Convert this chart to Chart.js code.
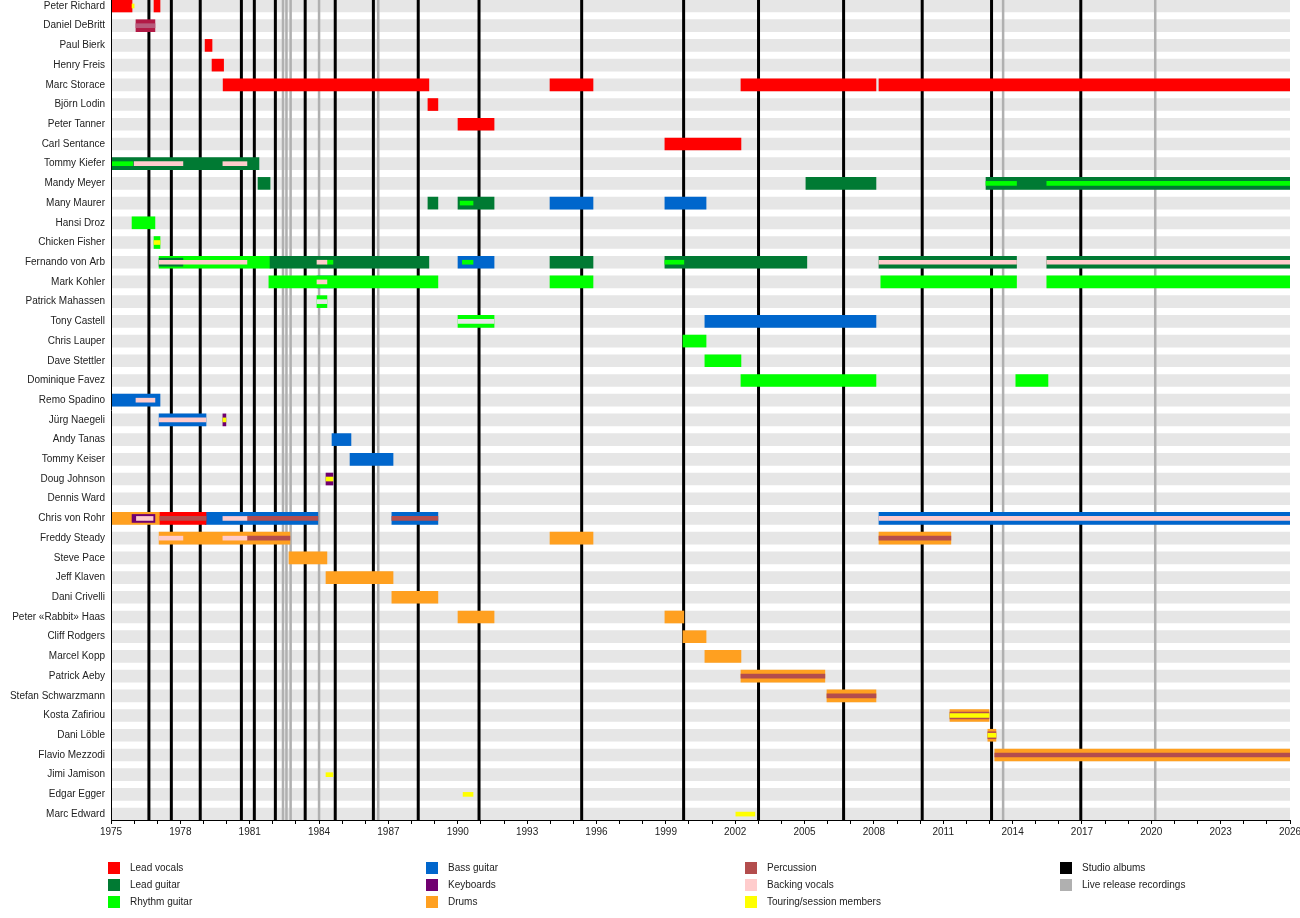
<!DOCTYPE html>
<html>
<head>
<meta charset="utf-8">
<script src="https://cdn.jsdelivr.net/npm/chart.js@4.4.1/dist/chart.umd.min.js"></script>
<style>
html,body{margin:0;padding:0;background:#fff;}
#wrap{position:absolute;left:0;top:0;width:1300px;height:845px;}
#legend{position:absolute;left:0;top:0;width:1300px;height:918px;pointer-events:none;font:10px "Liberation Sans",Arial,sans-serif;color:#222;}
.item{position:absolute;white-space:nowrap;height:12px;line-height:12px;}
.sw{position:absolute;left:0;top:0;width:12px;height:12px;}
.tx{position:absolute;left:22px;top:0;}
</style>
</head>
<body>
<div id="wrap"><canvas id="c"></canvas></div>
<div id="legend"></div>
<script>
// ---------------- DATA ----------------
const members = [
  "Peter Richard","Daniel DeBritt","Paul Bierk","Henry Freis","Marc Storace","Björn Lodin",
  "Peter Tanner","Carl Sentance","Tommy Kiefer","Mandy Meyer","Many Maurer","Hansi Droz",
  "Chicken Fisher","Fernando von Arb","Mark Kohler","Patrick Mahassen","Tony Castell",
  "Chris Lauper","Dave Stettler","Dominique Favez","Remo Spadino","Jürg Naegeli","Andy Tanas",
  "Tommy Keiser","Doug Johnson","Dennis Ward","Chris von Rohr","Freddy Steady","Steve Pace",
  "Jeff Klaven","Dani Crivelli","Peter «Rabbit» Haas","Cliff Rodgers","Marcel Kopp",
  "Patrick Aeby","Stefan Schwarzmann","Kosta Zafiriou","Dani Löble","Flavio Mezzodi",
  "Jimi Jamison","Edgar Egger","Marc Edward"
];
const yearRange = [1975, 2026];
const tickYears = []; for (let y = 1975; y <= 2026; y++) tickYears.push(y);

const studioAlbums = [1976.64,1977.61,1978.86,1980.64,1981.20,1982.11,1983.40,1984.70,1986.35,
  1988.29,1990.92,1995.36,1999.77,2003.01,2006.69,2010.09,2013.09,2016.95];
const liveRecordings = [1982.44,1982.59,1982.77,1984.00,1986.56,2013.59,2020.17];

// main bars: [member, start, end]
const leadVocals = [
  ["Peter Richard",1975.00,1975.91],["Peter Richard",1976.86,1977.12],
  ["Paul Bierk",1979.07,1979.37],["Henry Freis",1979.37,1979.87],
  ["Marc Storace",1979.85,1988.75],["Marc Storace",1993.99,1995.85],
  ["Marc Storace",2002.25,2008.09],["Marc Storace",2008.22,2026],
  ["Björn Lodin",1988.71,1989.14],["Peter Tanner",1990.01,1991.57],
  ["Carl Sentance",1998.96,2002.25],["Chris von Rohr",1977.12,1979.11]
];
const leadGuitar = [
  ["Tommy Kiefer",1975.00,1981.40],["Mandy Meyer",1981.36,1981.88],
  ["Mandy Meyer",2005.06,2008.09],["Mandy Meyer",2012.85,2026],
  ["Many Maurer",1988.71,1989.14],["Many Maurer",1990.01,1991.57],
  ["Fernando von Arb",1981.88,1988.75],["Fernando von Arb",1993.99,1995.85],
  ["Fernando von Arb",1998.96,2005.10],["Fernando von Arb",2008.22,2014.17],
  ["Fernando von Arb",2015.48,2026]
];
const rhythmGuitar = [
  ["Hansi Droz",1975.91,1976.90],["Chicken Fisher",1976.86,1977.12],
  ["Fernando von Arb",1977.08,1981.88],["Mark Kohler",1981.83,1989.14],
  ["Mark Kohler",1993.99,1995.85],["Mark Kohler",2008.30,2014.17],
  ["Mark Kohler",2015.48,2026],["Patrick Mahassen",1983.91,1984.34],
  ["Tony Castell",1990.01,1991.57],["Chris Lauper",1999.74,2000.74],
  ["Dave Stettler",2000.69,2002.25],["Dominique Favez",2002.25,2008.09],
  ["Dominique Favez",2014.14,2015.53]
];
const bassGuitar = [
  ["Many Maurer",1993.99,1995.85],["Many Maurer",1998.96,2000.74],
  ["Fernando von Arb",1990.01,1991.57],["Mark Kohler",1983.91,1984.60],
  ["Tony Castell",2000.69,2008.09],["Remo Spadino",1975.00,1977.12],
  ["Jürg Naegeli",1977.08,1979.11],["Andy Tanas",1984.56,1985.38],
  ["Tommy Keiser",1985.34,1987.20],["Chris von Rohr",1979.07,1983.95],
  ["Chris von Rohr",1987.15,1989.14],["Chris von Rohr",2008.22,2026]
];
const keyboards = [
  ["Jürg Naegeli",1979.84,1979.97],["Doug Johnson",1984.30,1984.60]
];
const drums = [
  ["Chris von Rohr",1975.00,1977.12],["Freddy Steady",1977.08,1982.74],
  ["Freddy Steady",1993.99,1995.85],["Freddy Steady",2008.22,2011.33],
  ["Steve Pace",1982.70,1984.34],["Jeff Klaven",1984.30,1987.20],
  ["Dani Crivelli",1987.15,1989.14],["Peter «Rabbit» Haas",1990.01,1991.57],
  ["Peter «Rabbit» Haas",1998.96,1999.78],["Cliff Rodgers",1999.74,2000.74],
  ["Marcel Kopp",2000.69,2002.25],["Patrick Aeby",2002.25,2005.88],
  ["Stefan Schwarzmann",2005.97,2008.09],["Kosta Zafiriou",2011.29,2012.98],
  ["Dani Löble",2012.93,2013.28],["Flavio Mezzodi",2013.23,2026]
];
const vocalsKeys = [["Daniel DeBritt",1976.08,1976.90]];

// secondary roles drawn as inner stripes
const leadGuitarInner = [["Fernando von Arb",1977.08,1978.11]];
const keyboardsInner = [["Chris von Rohr",1975.91,1976.90]];
const percussionInnerWide = [["Kosta Zafiriou",2011.29,2012.98],["Dani Löble",2012.93,2013.28]];
const backingVocals = [
  ["Tommy Kiefer",1976.00,1978.11],["Tommy Kiefer",1979.84,1980.88],
  ["Fernando von Arb",1977.08,1980.88],["Fernando von Arb",1983.91,1984.34],
  ["Fernando von Arb",2008.22,2014.17],["Fernando von Arb",2015.48,2026],
  ["Mark Kohler",1983.91,1984.34],["Remo Spadino",1976.08,1976.90],
  ["Jürg Naegeli",1977.08,1979.11],["Chris von Rohr",1976.10,1976.82],
  ["Chris von Rohr",1979.84,1980.88],["Chris von Rohr",2008.22,2026],
  ["Freddy Steady",1977.08,1978.11],["Freddy Steady",1979.84,1980.88]
];
const percussion = [
  ["Chris von Rohr",1977.12,1979.11],["Chris von Rohr",1980.88,1983.95],
  ["Chris von Rohr",1987.15,1989.14],["Freddy Steady",1980.88,1982.74],
  ["Freddy Steady",2008.22,2011.33],["Patrick Aeby",2002.25,2005.88],
  ["Stefan Schwarzmann",2005.97,2008.09],["Flavio Mezzodi",2013.23,2026]
];
const rhythmInner = [
  ["Tommy Kiefer",1975.00,1975.94],["Mandy Meyer",2012.85,2014.17],
  ["Mandy Meyer",2015.48,2026],["Many Maurer",1990.10,1990.66],
  ["Fernando von Arb",1984.34,1984.60],["Fernando von Arb",1990.20,1990.66],
  ["Fernando von Arb",1998.96,1999.78]
];
const touring = [
  ["Peter Richard",1975.91,1976.00],["Chicken Fisher",1976.86,1977.12],
  ["Jürg Naegeli",1979.84,1979.97],["Doug Johnson",1984.30,1984.60],
  ["Kosta Zafiriou",2011.29,2012.98],["Dani Löble",2012.93,2013.28],
  ["Jimi Jamison",1984.30,1984.60],["Edgar Egger",1990.23,1990.66],
  ["Marc Edward",2002.03,2002.85]
];
const gaps = [["Patrick Mahassen",1983.91,1984.34],["Tony Castell",1990.01,1991.57]];
const vocalsKeysInner = [["Daniel DeBritt",1976.08,1976.90]];

// ---------------- STYLE ----------------
const C = {
  band:'#e6e6e6', leadVocals:'#ff0000', leadGuitar:'#007a33', rhythm:'#00ff00',
  bass:'#0066cc', keys:'#700070', drums:'#ffa020', perc:'#b34d4d', backing:'#ffcccc',
  touring:'#ffff00', studio:'#000000', live:'#b0b0b0', vk:'#b21a46', vkInner:'#b85b7c'
};

function toPoints(list){ return list.map(([m,s,e]) => ({x:[s,e], y:members.indexOf(m)})); }
function ds(id, list, color, thick, order){
  return {id, data: toPoints(list), backgroundColor: color, maxBarThickness: thick,
          barPercentage: 1, categoryPercentage: 1, borderWidth: 0, order};
}

const datasets = [
  {id:'bands', data: members.map((m,i)=>({x:[yearRange[0],yearRange[1]], y:i})),
   backgroundColor: C.band, maxBarThickness: 12, barPercentage:1, categoryPercentage:1, borderWidth:0, order:100},
  ds('leadVocals', leadVocals, C.leadVocals, 12, 50),
  ds('leadGuitar', leadGuitar, C.leadGuitar, 12, 50),
  ds('rhythm', rhythmGuitar, C.rhythm, 12, 50),
  ds('bass', bassGuitar, C.bass, 12, 50),
  ds('keys', keyboards, C.keys, 12, 50),
  ds('drums', drums, C.drums, 12, 50),
  ds('vk', vocalsKeys, C.vk, 12, 50),
  ds('lgInner', leadGuitarInner, C.leadGuitar, 8, 40),
  ds('keysInner', keyboardsInner, C.keys, 8, 40),
  ds('percWide', percussionInnerWide, C.perc, 7, 40),
  ds('backing', backingVocals, C.backing, 4, 30),
  ds('perc', percussion, C.perc, 4, 30),
  ds('rhythmInner', rhythmInner, C.rhythm, 4, 30),
  ds('touring', touring, C.touring, 4, 30),
  ds('gaps', gaps, C.band, 4, 30),
  ds('vkInner', vocalsKeysInner, C.vkInner, 4, 30)
];

const albumLines = {
  id:'albumLines',
  afterDatasetDraw(chart, args){
    if (chart.data.datasets[args.index].id !== 'bands') return;
    const {ctx, chartArea:{top,bottom}, scales:{x}} = chart;
    ctx.save();
    ctx.lineWidth = 2.5; ctx.strokeStyle = C.live;
    liveRecordings.forEach(v => { const p = x.getPixelForValue(v); ctx.beginPath(); ctx.moveTo(p, top); ctx.lineTo(p, bottom); ctx.stroke(); });
    ctx.lineWidth = 3; ctx.strokeStyle = C.studio;
    studioAlbums.forEach(v => { const p = x.getPixelForValue(v); ctx.beginPath(); ctx.moveTo(p, top); ctx.lineTo(p, bottom); ctx.stroke(); });
    ctx.restore();
  }
};

Chart.defaults.font.family = '"Liberation Sans", Arial, sans-serif';
Chart.defaults.font.size = 10;
Chart.defaults.color = '#222';

new Chart(document.getElementById('c'), {
  type:'bar',
  data:{ datasets },
  plugins:[albumLines],
  options:{
    indexAxis:'y', responsive:true, maintainAspectRatio:false, animation:false, events:[],
    layout:{padding:{top:0,left:0,right:10,bottom:0}},
    datasets:{bar:{grouped:false}},
    plugins:{legend:{display:false}, tooltip:{enabled:false}},
    scales:{
      x:{type:'linear', min:yearRange[0], max:yearRange[1], offset:false,
         afterBuildTicks(s){ s.ticks = tickYears.map(v=>({value:v})); },
         afterFit(s){ s.height = 25; s.paddingLeft = 0; s.paddingRight = 0; },
         ticks:{autoSkip:false, maxRotation:0, padding:2, color:'#222',
                callback:(v)=> ((v-1975)%3===0 ? String(v) : '')},
         grid:{offset:false, drawOnChartArea:false, drawTicks:true, tickLength:4, color:'#000'},
         border:{display:true, color:'#000', width:1, z:1}},
      y:{type:'linear', reverse:true, min:-0.304, max:41.3, offset:false,
         afterBuildTicks(s){ s.ticks = members.map((m,i)=>({value:i})); },
         afterFit(s){ s.width = 111; s.paddingTop = 0; s.paddingBottom = 0; },
         ticks:{autoSkip:false, padding:6, color:'#222', callback:(v)=> members[v] ?? ''},
         grid:{offset:false, drawOnChartArea:false, drawTicks:false},
         border:{display:true, color:'#000', width:1, z:1}}
    }
  }
});

// ---------------- LEGEND ----------------
const legendEntries = [
  ["Lead vocals", C.leadVocals],["Lead guitar", C.leadGuitar],["Rhythm guitar", C.rhythm],
  ["Bass guitar", C.bass],["Keyboards", C.keys],["Drums", C.drums],
  ["Percussion", C.perc],["Backing vocals", C.backing],["Touring/session members", C.touring],
  ["Studio albums", C.studio],["Live release recordings", C.live]
];
const colX = [108, 426, 745, 1060], rowY = [862, 879, 896];
const lg = document.getElementById('legend');
legendEntries.forEach(([label, color], i) => {
  const d = document.createElement('div');
  d.className = 'item';
  d.style.left = colX[Math.floor(i/3)] + 'px';
  d.style.top = rowY[i%3] + 'px';
  d.innerHTML = '<span class="sw" style="background:' + color + '"></span><span class="tx"></span>';
  d.querySelector('.tx').textContent = label;
  lg.appendChild(d);
});
</script>
</body>
</html>
